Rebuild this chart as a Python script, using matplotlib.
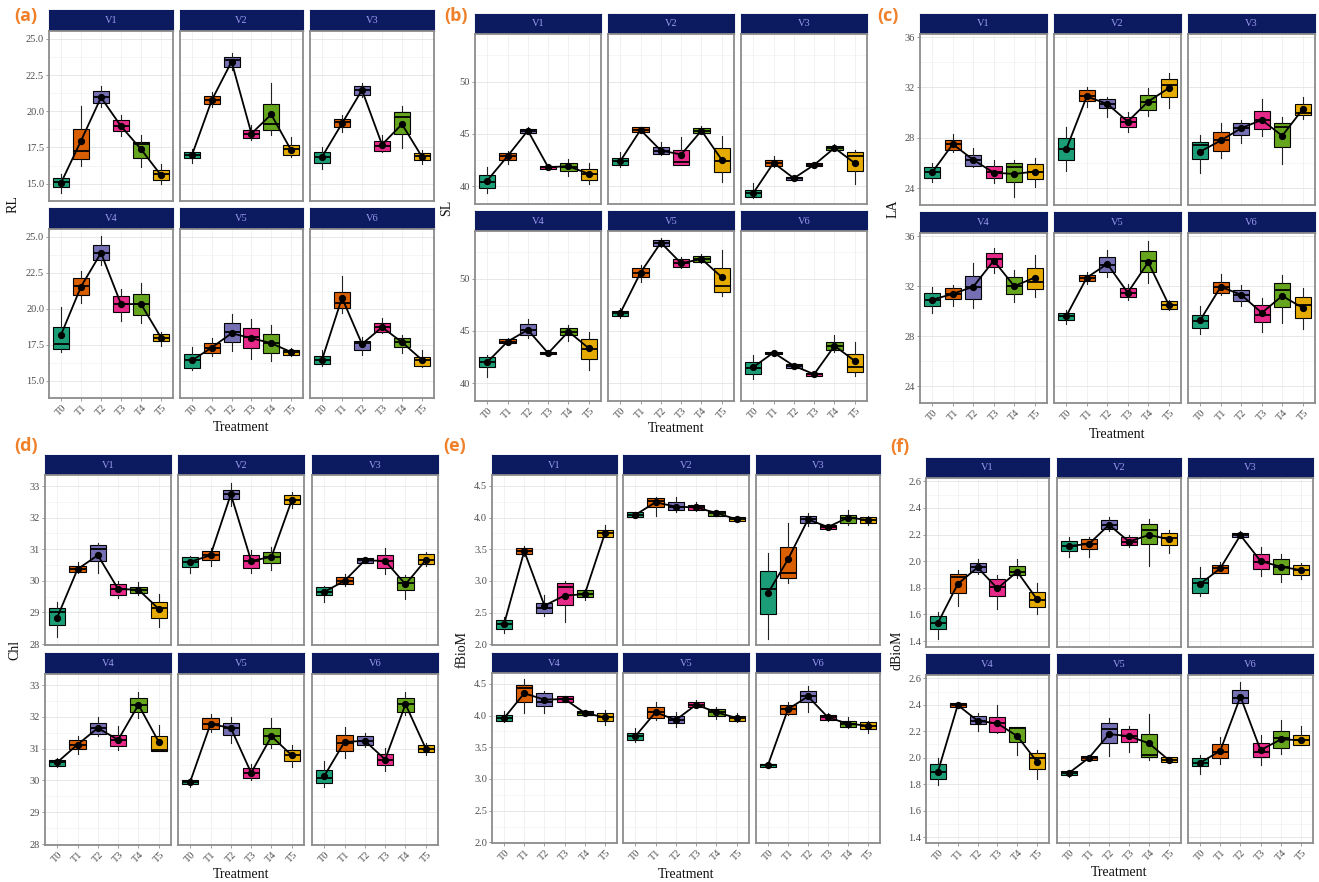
import matplotlib
matplotlib.use("Agg")
import matplotlib.pyplot as plt
from matplotlib.ticker import MultipleLocator

plt.rcParams['font.family'] = ['Liberation Serif', 'DejaVu Serif']

treatments = ['T0', 'T1', 'T2', 'T3', 'T4', 'T5']
varieties = ['V1', 'V2', 'V3', 'V4', 'V5', 'V6']
box_colors = ['#1B9E77', '#D95F02', '#7570B3', '#E7298A', '#66A61E', '#E6AB02']

# ---- RL (rows: V1..V6, cols: T0..T5) ----
RL_lo = [[14.35, 16.25, 20.31, 18.28, 16.15, 15.00],
         [16.45, 20.27, 22.85, 18.00, 18.35, 16.85],
         [16.04, 18.58, 21.00, 17.19, 17.43, 16.39],
         [16.99, 20.38, 23.04, 19.18, 19.00, 17.45],
         [15.72, 16.75, 17.10, 16.50, 16.39, 16.69],
         [16.04, 19.69, 16.80, 18.30, 16.92, 15.99]]
RL_q1 = [[14.77, 16.73, 20.59, 18.63, 16.78, 15.23],
         [16.78, 20.47, 23.08, 18.12, 18.70, 17.01],
         [16.43, 18.93, 21.12, 17.26, 18.46, 16.62],
         [17.22, 20.96, 23.38, 19.76, 19.57, 17.73],
         [15.92, 16.96, 17.66, 17.26, 16.96, 16.80],
         [16.15, 20.03, 17.15, 18.42, 17.38, 16.04]]
RL_med = [[15.10, 17.26, 21.00, 18.97, 17.73, 15.65],
          [17.00, 20.80, 23.55, 18.40, 19.11, 17.40],
          [16.85, 19.27, 21.50, 17.60, 19.62, 16.90],
          [17.56, 21.58, 23.85, 20.35, 20.33, 18.00],
          [16.41, 17.31, 18.42, 18.07, 17.61, 16.99],
          [16.45, 20.43, 17.61, 18.72, 17.68, 16.45]]
RL_q3 = [[15.39, 18.81, 21.40, 19.39, 17.89, 15.92],
         [17.19, 21.05, 23.78, 18.70, 20.50, 17.70],
         [17.19, 19.50, 21.77, 17.93, 19.97, 17.12],
         [18.76, 22.11, 24.47, 20.89, 21.00, 18.26],
         [16.85, 17.61, 19.00, 18.65, 18.23, 17.15],
         [16.73, 21.19, 17.77, 19.04, 17.96, 16.62]]
RL_hi = [[15.65, 20.36, 21.74, 19.73, 18.35, 16.39],
         [17.36, 21.35, 24.00, 19.04, 21.97, 18.19],
         [17.54, 19.73, 21.93, 18.35, 20.36, 17.31],
         [20.10, 22.64, 25.05, 21.35, 21.77, 18.42],
         [17.38, 17.96, 19.62, 19.27, 18.88, 17.26],
         [17.15, 22.27, 18.07, 19.34, 18.19, 17.15]]
RL_mean = [[15.05, 17.96, 20.96, 18.97, 17.38, 15.58],
           [16.96, 20.77, 23.43, 18.46, 19.78, 17.31],
           [16.85, 19.16, 21.47, 17.70, 19.11, 16.85],
           [18.19, 21.54, 23.89, 20.33, 20.33, 18.00],
           [16.41, 17.31, 18.30, 17.96, 17.61, 16.99],
           [16.45, 20.77, 17.55, 18.72, 17.68, 16.45]]

# ---- SL ----
SL_lo = [[39.33, 42.13, 45.00, 41.60, 41.02, 40.22],
         [41.82, 45.10, 43.03, 42.07, 45.00, 40.38],
         [38.89, 41.88, 40.54, 41.82, 43.41, 40.22],
         [40.64, 43.76, 44.30, 42.70, 44.08, 41.27],
         [46.21, 49.71, 53.06, 51.05, 51.46, 48.34],
         [40.38, 42.70, 41.40, 40.60, 43.03, 40.70]]
SL_q1 = [[39.84, 42.52, 45.10, 41.69, 41.43, 40.64],
         [42.04, 45.16, 43.09, 42.07, 45.06, 41.34],
         [38.95, 41.97, 40.61, 41.91, 43.47, 41.50],
         [41.53, 43.82, 44.62, 42.77, 44.62, 42.29],
         [46.43, 50.19, 53.15, 51.15, 51.56, 48.76],
         [40.89, 42.77, 41.50, 40.70, 43.18, 41.11]]
SL_med = [[40.38, 42.87, 45.32, 41.82, 41.82, 41.18],
          [42.39, 45.38, 43.41, 42.29, 45.32, 42.45],
          [39.33, 42.23, 40.76, 42.04, 43.66, 42.93],
          [42.07, 43.98, 45.10, 42.87, 44.94, 43.25],
          [46.69, 50.57, 53.44, 51.46, 51.88, 49.30],
          [41.43, 42.93, 41.66, 40.86, 43.57, 41.59]]
SL_q3 = [[41.08, 43.15, 45.48, 41.91, 42.20, 41.66],
         [42.71, 45.64, 43.73, 43.50, 45.57, 43.66],
         [39.65, 42.52, 40.92, 42.23, 43.89, 43.25],
         [42.48, 44.20, 45.67, 43.03, 45.25, 44.20],
         [46.91, 50.99, 53.69, 51.85, 52.20, 50.99],
         [42.07, 43.03, 41.82, 41.02, 43.98, 42.77]]
SL_hi = [[41.82, 43.41, 45.64, 42.00, 42.61, 42.23],
         [43.25, 45.70, 44.20, 44.75, 45.80, 44.84],
         [40.29, 42.93, 41.02, 42.29, 44.04, 43.47],
         [42.71, 44.30, 46.11, 43.10, 45.57, 44.94],
         [47.17, 51.31, 53.85, 52.10, 52.36, 52.74],
         [42.71, 43.10, 41.90, 41.10, 44.62, 43.98]]
SL_mean = [[40.54, 42.87, 45.32, 41.82, 41.91, 41.18],
           [42.39, 45.38, 43.41, 43.03, 45.32, 42.52],
           [39.33, 42.23, 40.76, 42.04, 43.66, 42.20],
           [42.01, 43.98, 45.10, 42.87, 44.94, 43.34],
           [46.69, 50.57, 53.44, 51.46, 51.88, 50.13],
           [41.53, 42.93, 41.66, 40.86, 43.57, 42.13]]

# ---- LA ----
LA_lo = [[24.51, 26.90, 25.71, 24.38, 23.27, 24.12],
         [25.39, 30.48, 29.63, 28.49, 29.74, 30.35],
         [25.23, 26.37, 27.57, 28.10, 25.92, 29.50],
         [29.86, 30.39, 30.26, 33.05, 30.70, 31.12],
         [28.95, 32.21, 32.74, 30.91, 32.27, 30.13],
         [28.17, 31.30, 30.44, 28.35, 29.08, 28.56]]
LA_q1 = [[24.83, 27.03, 25.79, 24.78, 24.51, 24.73],
         [26.19, 30.96, 30.40, 28.84, 30.22, 31.23],
         [26.29, 26.98, 28.23, 28.68, 27.30, 29.77],
         [30.39, 30.96, 30.96, 33.57, 31.38, 31.74],
         [29.29, 32.40, 33.13, 31.17, 33.13, 30.18],
         [28.69, 31.48, 30.83, 29.13, 30.33, 29.47]]
LA_med = [[25.26, 27.49, 26.24, 25.31, 25.71, 25.31],
          [27.09, 31.35, 30.69, 29.29, 30.88, 32.21],
          [27.43, 27.83, 28.76, 29.42, 28.84, 29.95],
          [30.91, 31.38, 31.90, 34.17, 32.00, 32.34],
          [29.60, 32.68, 33.70, 31.48, 34.04, 30.52],
          [29.21, 31.95, 31.30, 29.73, 31.69, 30.52]]
LA_q3 = [[25.66, 27.83, 26.64, 25.76, 25.97, 25.89],
         [27.96, 31.76, 31.07, 29.63, 31.41, 32.66],
         [27.70, 28.44, 29.21, 30.14, 29.16, 30.67],
         [31.43, 31.82, 32.79, 34.69, 32.74, 33.47],
         [29.86, 32.87, 34.30, 31.82, 34.83, 30.78],
         [29.73, 32.34, 31.69, 30.52, 32.27, 31.17]]
LA_hi = [[26.03, 28.31, 27.17, 26.19, 26.19, 26.37],
         [28.89, 32.07, 31.23, 30.08, 31.94, 33.14],
         [28.23, 29.21, 29.42, 31.07, 29.63, 31.20],
         [31.90, 32.08, 33.83, 35.09, 33.26, 34.51],
         [30.13, 33.13, 34.88, 32.21, 35.61, 30.91],
         [30.39, 33.00, 32.08, 31.09, 32.87, 31.82]]
LA_mean = [[25.26, 27.49, 26.24, 25.22, 25.12, 25.31],
           [27.09, 31.28, 30.69, 29.29, 30.88, 31.94],
           [26.90, 27.78, 28.76, 29.42, 28.15, 30.27],
           [30.91, 31.38, 31.95, 34.04, 32.00, 32.68],
           [29.60, 32.68, 33.78, 31.48, 33.91, 30.52],
           [29.29, 31.95, 31.30, 29.86, 31.22, 30.26]]

# ---- Chl ----
Chl_lo = [[28.21, 30.24, 30.26, 29.47, 29.56, 28.53],
          [30.24, 30.47, 32.37, 30.24, 30.35, 32.32],
          [29.32, 29.84, 30.55, 30.21, 29.42, 30.47],
          [30.42, 30.83, 31.39, 30.97, 31.96, 30.94],
          [29.79, 31.51, 31.18, 30.00, 31.02, 30.42],
          [29.79, 30.71, 31.04, 30.29, 32.06, 30.81]]
Chl_q1 = [[28.60, 30.28, 30.63, 29.56, 29.61, 28.81],
          [30.45, 30.66, 32.58, 30.42, 30.58, 32.42],
          [29.56, 29.89, 30.58, 30.42, 29.72, 30.53],
          [30.47, 30.99, 31.46, 31.07, 32.17, 30.94],
          [29.90, 31.61, 31.44, 30.08, 31.15, 30.60],
          [29.93, 30.94, 31.13, 30.50, 32.17, 30.89]]
Chl_med = [[29.02, 30.37, 31.00, 29.74, 29.72, 29.13],
           [30.60, 30.81, 32.74, 30.63, 30.76, 32.56],
           [29.65, 30.00, 30.65, 30.63, 29.93, 30.66],
           [30.57, 31.13, 31.65, 31.28, 32.38, 30.97],
           [29.96, 31.78, 31.65, 30.24, 31.39, 30.79],
           [30.08, 31.18, 31.25, 30.66, 32.40, 31.00]]
Chl_q3 = [[29.14, 30.47, 31.13, 29.89, 29.79, 29.34],
          [30.74, 30.95, 32.86, 30.81, 30.92, 32.72],
          [29.79, 30.13, 30.71, 30.82, 30.11, 30.84],
          [30.66, 31.28, 31.80, 31.44, 32.58, 31.39],
          [30.03, 31.96, 31.82, 30.38, 31.65, 30.97],
          [30.34, 31.44, 31.39, 30.83, 32.61, 31.13]]
Chl_hi = [[29.32, 30.60, 31.21, 30.00, 29.97, 29.58],
          [30.79, 31.05, 33.10, 30.98, 31.08, 32.81],
          [29.84, 30.21, 30.74, 31.03, 30.18, 30.92],
          [30.71, 31.39, 32.01, 31.70, 32.79, 31.75],
          [30.08, 32.08, 32.01, 30.52, 31.98, 31.13],
          [30.60, 31.67, 31.49, 31.02, 32.79, 31.18]]
Chl_mean = [[28.84, 30.37, 30.81, 29.74, 29.72, 29.11],
            [30.60, 30.81, 32.74, 30.63, 30.76, 32.56],
            [29.65, 30.00, 30.65, 30.63, 29.89, 30.66],
            [30.57, 31.13, 31.65, 31.28, 32.38, 31.21],
            [29.96, 31.78, 31.65, 30.24, 31.39, 30.79],
            [30.14, 31.21, 31.25, 30.66, 32.40, 31.00]]

# ---- fBioM ----
fB_lo = [[2.18, 3.39, 2.44, 2.36, 2.70, 3.69],
         [4.01, 4.03, 4.09, 4.11, 4.02, 3.93],
         [2.09, 2.97, 3.86, 3.81, 3.88, 3.88],
         [3.89, 4.04, 4.04, 4.21, 4.00, 3.85],
         [3.59, 3.93, 3.82, 4.13, 3.94, 3.89],
         [3.18, 4.01, 4.06, 3.92, 3.80, 3.73]]
fB_q1 = [[2.25, 3.43, 2.49, 2.62, 2.74, 3.70],
         [4.01, 4.16, 4.12, 4.12, 4.03, 3.94],
         [2.48, 3.04, 3.92, 3.82, 3.92, 3.91],
         [3.91, 4.22, 4.15, 4.22, 4.01, 3.92],
         [3.61, 3.96, 3.88, 4.14, 3.99, 3.91],
         [3.19, 4.03, 4.21, 3.93, 3.82, 3.78]]
fB_med = [[2.32, 3.47, 2.57, 2.91, 2.79, 3.75],
          [4.04, 4.26, 4.17, 4.16, 4.07, 3.97],
          [2.87, 3.13, 3.97, 3.85, 4.00, 3.96],
          [3.96, 4.43, 4.22, 4.26, 4.04, 3.97],
          [3.67, 4.05, 3.93, 4.17, 4.05, 3.96],
          [3.22, 4.10, 4.30, 3.97, 3.87, 3.84]]
fB_q3 = [[2.38, 3.52, 2.65, 2.96, 2.85, 3.81],
         [4.08, 4.31, 4.24, 4.20, 4.11, 4.01],
         [3.16, 3.53, 4.03, 3.88, 4.04, 4.01],
         [4.01, 4.48, 4.35, 4.30, 4.07, 4.04],
         [3.72, 4.14, 3.99, 4.21, 4.10, 3.99],
         [3.24, 4.17, 4.39, 4.01, 3.92, 3.89]]
fB_hi = [[2.43, 3.55, 2.78, 3.00, 2.87, 3.88],
         [4.09, 4.33, 4.33, 4.24, 4.12, 4.02],
         [3.44, 3.91, 4.07, 3.89, 4.12, 4.03],
         [4.07, 4.57, 4.39, 4.31, 4.08, 4.09],
         [3.80, 4.21, 4.05, 4.24, 4.14, 4.04],
         [3.25, 4.22, 4.46, 4.04, 3.98, 3.92]]
fB_mean = [[2.32, 3.47, 2.61, 2.77, 2.79, 3.75],
           [4.04, 4.24, 4.17, 4.16, 4.07, 3.97],
           [2.81, 3.34, 3.97, 3.85, 4.00, 3.96],
           [3.96, 4.35, 4.25, 4.26, 4.04, 3.97],
           [3.67, 4.05, 3.93, 4.17, 4.05, 3.96],
           [3.22, 4.10, 4.30, 3.97, 3.87, 3.84]]

# ---- dBioM ----
dB_lo = [[1.418, 1.660, 1.903, 1.644, 1.870, 1.601],
         [2.034, 2.034, 2.230, 2.109, 1.964, 2.064],
         [1.737, 1.913, 2.172, 1.888, 1.845, 1.863],
         [1.792, 2.375, 2.204, 2.183, 2.019, 1.842],
         [1.855, 1.983, 2.012, 2.044, 1.981, 1.965],
         [1.880, 1.951, 2.411, 1.943, 2.027, 2.095]]
dB_q1 = [[1.488, 1.762, 1.921, 1.737, 1.896, 1.652],
         [2.079, 2.089, 2.240, 2.122, 2.130, 2.122],
         [1.762, 1.913, 2.180, 1.938, 1.903, 1.896],
         [1.842, 2.380, 2.254, 2.196, 2.120, 1.911],
         [1.868, 1.986, 2.108, 2.120, 2.002, 1.969],
         [1.936, 1.994, 2.416, 2.002, 2.070, 2.095]]
dB_med = [[1.536, 1.883, 1.953, 1.808, 1.921, 1.707],
          [2.114, 2.130, 2.273, 2.147, 2.235, 2.172],
          [1.833, 1.946, 2.195, 1.996, 1.958, 1.933],
          [1.893, 2.398, 2.279, 2.264, 2.225, 1.994],
          [1.885, 1.999, 2.214, 2.163, 2.019, 1.981],
          [1.961, 2.044, 2.448, 2.044, 2.146, 2.133]]
dB_q3 = [[1.586, 1.903, 1.989, 1.863, 1.964, 1.770],
         [2.155, 2.165, 2.306, 2.180, 2.281, 2.210],
         [1.870, 1.971, 2.210, 2.054, 2.014, 1.971],
         [1.951, 2.416, 2.315, 2.310, 2.234, 2.032],
         [1.900, 2.012, 2.259, 2.214, 2.178, 2.002],
         [1.994, 2.103, 2.512, 2.108, 2.201, 2.171]]
dB_hi = [[1.620, 1.933, 2.014, 1.896, 2.014, 1.833],
         [2.180, 2.180, 2.331, 2.197, 2.316, 2.235],
         [1.953, 1.996, 2.223, 2.109, 2.054, 1.989],
         [1.994, 2.420, 2.335, 2.398, 2.234, 2.057],
         [1.906, 2.015, 2.297, 2.239, 2.330, 2.005],
         [2.019, 2.158, 2.575, 2.171, 2.284, 2.239]]
dB_mean = [[1.536, 1.828, 1.953, 1.795, 1.921, 1.712],
           [2.114, 2.130, 2.273, 2.147, 2.197, 2.165],
           [1.828, 1.946, 2.195, 2.001, 1.958, 1.933],
           [1.893, 2.398, 2.279, 2.259, 2.163, 1.969],
           [1.885, 1.999, 2.178, 2.163, 2.108, 1.981],
           [1.961, 2.052, 2.461, 2.057, 2.138, 2.133]]

W, H = 1319, 882
fig = plt.figure(figsize=(W / 100, H / 100), dpi=100)
fig.patch.set_facecolor('white')

STRIP_BG = '#0c1a60'
STRIP_TXT = '#9a9cf0'
FRAME = '#8c8c8c'
TICK_TXT = '#4d4d4d'
LETTER = '#F07F2A'


def px_axes(x0, x1, y0, y1):
    return fig.add_axes([x0 / W, 1 - y1 / H, (x1 - x0) / W, (y1 - y0) / H])


panels = [
    dict(letter='(a)', ylabel='RL', stats=(RL_lo, RL_q1, RL_med, RL_q3, RL_hi, RL_mean),
         cols=[(49, 173), (180, 303), (310, 434)],
         rows=[(10, 31, 201), (208, 229, 398)],
         ylim=(13.8, 25.55), yticks=[15.0, 17.5, 20.0, 22.5, 25.0], fmt='{:.1f}', minor=1.25,
         letter_xy=(14, 16), ylabel_x=13, xlabel_xy=(241, 427)),
    dict(letter='(b)', ylabel='SL', stats=(SL_lo, SL_q1, SL_med, SL_q3, SL_hi, SL_mean),
         cols=[(475, 601), (608, 734), (741, 867)],
         rows=[(14, 34, 204), (211, 231, 401)],
         ylim=(38.3, 54.55), yticks=[40, 45, 50], fmt='{:.0f}', minor=2.5,
         letter_xy=(444, 16), ylabel_x=447, xlabel_xy=(676, 429)),
    dict(letter='(c)', ylabel='LA', stats=(LA_lo, LA_q1, LA_med, LA_q3, LA_hi, LA_mean),
         cols=[(920, 1047), (1054, 1181), (1188, 1315)],
         rows=[(14, 34, 205), (212, 233, 403)],
         ylim=(22.65, 36.25), yticks=[24, 28, 32, 36], fmt='{:.0f}', minor=2,
         letter_xy=(877, 16), ylabel_x=893, xlabel_xy=(1117, 434)),
    dict(letter='(d)', ylabel='Chl', stats=(Chl_lo, Chl_q1, Chl_med, Chl_q3, Chl_hi, Chl_mean),
         cols=[(45, 171), (178, 304), (312, 438)],
         rows=[(455, 475, 645), (653, 674, 845)],
         ylim=(27.97, 33.35), yticks=[28, 29, 30, 31, 32, 33], fmt='{:.0f}', minor=0.5,
         letter_xy=(14, 446), ylabel_x=15, xlabel_xy=(241, 874)),
    dict(letter='(e)', ylabel='fBioM', stats=(fB_lo, fB_q1, fB_med, fB_q3, fB_hi, fB_mean),
         cols=[(492, 617), (623, 749), (756, 880)],
         rows=[(455, 475, 645), (653, 673, 843)],
         ylim=(1.99, 4.67), yticks=[2.0, 2.5, 3.0, 3.5, 4.0, 4.5], fmt='{:.1f}', minor=0.25,
         letter_xy=(443, 446), ylabel_x=462, xlabel_xy=(686, 874)),
    dict(letter='(f)', ylabel='dBioM', stats=(dB_lo, dB_q1, dB_med, dB_q3, dB_hi, dB_mean),
         cols=[(926, 1049), (1057, 1181), (1188, 1313)],
         rows=[(458, 478, 647), (654, 675, 843)],
         ylim=(1.355, 2.625), yticks=[1.4, 1.6, 1.8, 2.0, 2.2, 2.4, 2.6], fmt='{:.1f}', minor=0.1,
         letter_xy=(890, 447), ylabel_x=897, xlabel_xy=(1119, 873)),
]

positions = list(range(len(treatments)))

for p in panels:
    lo, q1, med, q3, hi, mean = p['stats']
    for v, name in enumerate(varieties):
        r, c = divmod(v, 3)
        x0, x1 = p['cols'][c]
        s_top, p_top, p_bot = p['rows'][r]

        # facet strip
        sax = px_axes(x0, x1, s_top, p_top)
        sax.set_facecolor(STRIP_BG)
        sax.set_xticks([])
        sax.set_yticks([])
        for sp in sax.spines.values():
            sp.set_color(STRIP_BG)
        sax.text(0.5, 0.5, name, color=STRIP_TXT, fontsize=7.5,
                 ha='center', va='center', transform=sax.transAxes)

        ax = px_axes(x0, x1, p_top, p_bot)
        ax.set_facecolor('white')
        stats = [dict(whislo=lo[v][j], q1=q1[v][j], med=med[v][j], q3=q3[v][j],
                      whishi=hi[v][j], fliers=[]) for j in positions]
        bp = ax.bxp(stats, positions=positions, widths=0.8, patch_artist=True,
                    showcaps=False, showfliers=False,
                    boxprops=dict(linewidth=0.8, edgecolor='black'),
                    medianprops=dict(color='black', linewidth=1.3),
                    whiskerprops=dict(color='#222222', linewidth=0.8))
        for patch, col in zip(bp['boxes'], box_colors):
            patch.set_facecolor(col)
        ax.plot(positions, mean[v], color='black', lw=1.3, marker='o', ms=4.2,
                zorder=5)

        ax.set_xlim(-0.6, 5.6)
        ax.set_ylim(*p['ylim'])
        ax.set_yticks(p['yticks'])
        ax.yaxis.set_minor_locator(MultipleLocator(p['minor']))
        ax.grid(True, which='major', color='#e4e4e4', lw=0.6)
        ax.grid(True, which='minor', color='#f1f1f1', lw=0.5)
        ax.xaxis.grid(True, which='major', color='#ececec', lw=0.5)
        ax.set_axisbelow(True)
        for sp in ax.spines.values():
            sp.set_color(FRAME)
            sp.set_linewidth(1.3)
        ax.tick_params(axis='both', colors=FRAME, labelcolor=TICK_TXT, labelsize=7.5,
                       length=2, width=0.6, pad=1.5)
        ax.tick_params(axis='y', which='minor', length=0)

        ax.set_xticks(positions)
        if r == 1:
            ax.set_xticklabels(treatments, rotation=45, ha='center', va='top')
        else:
            ax.set_xticklabels([])
            ax.tick_params(axis='x', length=0)
        if c == 0:
            ax.set_yticklabels([p['fmt'].format(t) for t in p['yticks']])
        else:
            ax.set_yticklabels([])
            ax.tick_params(axis='y', length=0)

    # panel letter, axis titles
    lx, ly = p['letter_xy']
    fig.text(lx / W, 1 - ly / H, p['letter'], color=LETTER, fontsize=13,
             fontweight='bold', family=['Open Sans', 'DejaVu Sans'], ha='left', va='center')
    y_mid = (p['rows'][0][0] + p['rows'][1][2]) / 2
    fig.text(p['ylabel_x'] / W, 1 - y_mid / H, p['ylabel'], rotation=90,
             fontsize=10, color='#111111', ha='center', va='center')
    tx, ty = p['xlabel_xy']
    fig.text(tx / W, 1 - ty / H, 'Treatment', fontsize=10, color='#111111',
             ha='center', va='center')

fig.savefig('out.png', dpi=100, facecolor='white')
